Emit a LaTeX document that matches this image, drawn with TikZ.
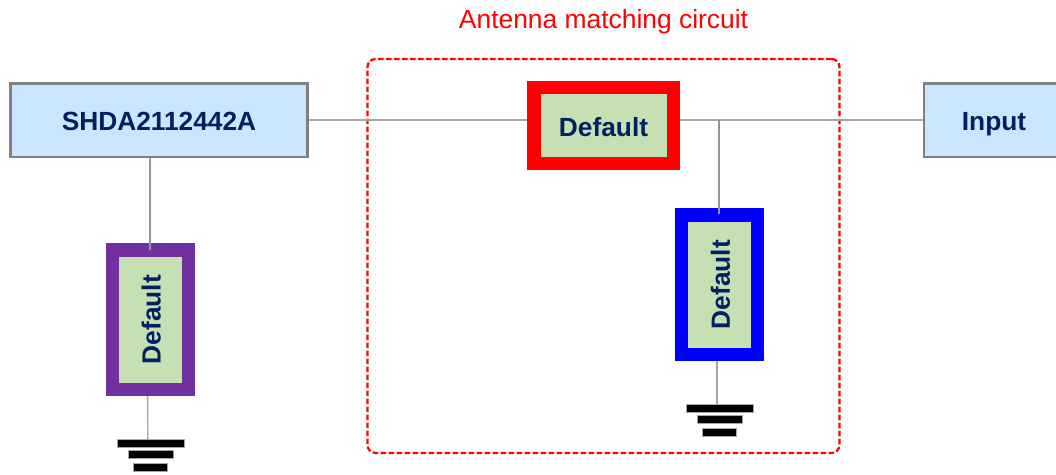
\documentclass[tikz,border=0pt]{standalone}
\usepackage{graphicx}
\usepackage{fontspec}
\setmainfont{Liberation Sans}
\definecolor{boxblue}{HTML}{CCE5FF}
\definecolor{boxgreen}{HTML}{C6E0B4}
\definecolor{inktext}{HTML}{002060}
\definecolor{wire}{HTML}{A6A6A6}
\definecolor{edge}{HTML}{808080}
\definecolor{violet}{HTML}{7030A0}
\tikzset{
  port/.style={draw=edge,fill=boxblue,line width=2.5pt,inner sep=0pt,text=inktext,text height=20pt,text depth=0pt,font=\fontsize{26.3}{30}\selectfont\bfseries},
  part/.style={fill=boxgreen,line width=13.5pt,inner sep=0pt,text=inktext,font=\fontsize{26.3}{30}\selectfont\bfseries},
  wireline/.style={draw=wire,line width=1.4pt},
  thin wire/.style={draw=wire!90!black,line width=1.1pt},
  bar/.style={fill=black,draw=black!35,line width=.4pt,inner sep=0pt,minimum height=8pt}
}
\begin{document}
\begin{tikzpicture}[x=1pt,y=-1pt]
\useasboundingbox (0,0) rectangle (1056,474);
\clip (0,0) rectangle (1056,474);
\node[draw=red,line width=2.2pt,dash pattern=on 5.5pt off 2.5pt,rounded corners=8pt,minimum width=472pt,minimum height=394pt,inner sep=0pt,outer sep=0pt] (frame) at (603.5,256) {};
\node[text=red,font=\fontsize{26.4}{30}\selectfont,inner sep=0pt] (title) at (603.5,21.5) {Antenna matching circuit};
\node[port,minimum width=297pt,minimum height=73.5pt] (shda) at (159,120) {SHDA2112442A};
\node[port,minimum width=140pt,minimum height=73.5pt] (input) at (994,120) {Input};
\node[part,draw=red,minimum width=139.5pt,minimum height=76pt,text height=22.4pt,text depth=0pt] (res) at (603.5,125.5) {Default};
\node[part,draw=violet,minimum width=76pt,minimum height=139.5pt] (pur) at (150.25,319.5) {\hspace{2pt}\rotatebox{90}{Default}};
\node[part,draw=blue,minimum width=76pt,minimum height=139.5pt] (blu) at (719.5,284.5) {\hspace{2pt}\rotatebox{90}{Default}};
\node[bar,minimum width=67pt] (g1) at (150.5,443) {};
\node[bar,minimum width=45pt] (g2) at (150.5,454.5) {};
\node[bar,minimum width=34pt] (g3) at (150.5,467) {};
\node[bar,minimum width=67pt] (h1) at (719.5,408) {};
\node[bar,minimum width=45pt] (h2) at (719.5,419) {};
\node[bar,minimum width=34pt] (h3) at (719.5,432) {};
\coordinate (jn) at (719,120);
\coordinate (bluin) at (719,214);
\coordinate (purin) at (150,250);
\draw[wireline] (shda.east) -- (res.west |- shda.east);
\draw[wireline] (res.east |- input.west) -- (input.west);
\draw[thin wire] (jn) -- (bluin);
\draw[thin wire] (purin |- shda.south) -- (purin);
\draw[wireline] ([xshift=-2.7pt]pur.south) -- ([xshift=-2.7pt]g1.north);
\draw[wireline] ([xshift=-2.7pt]blu.south) -- ([xshift=-2.7pt]h1.north);
\end{tikzpicture}
\end{document}
